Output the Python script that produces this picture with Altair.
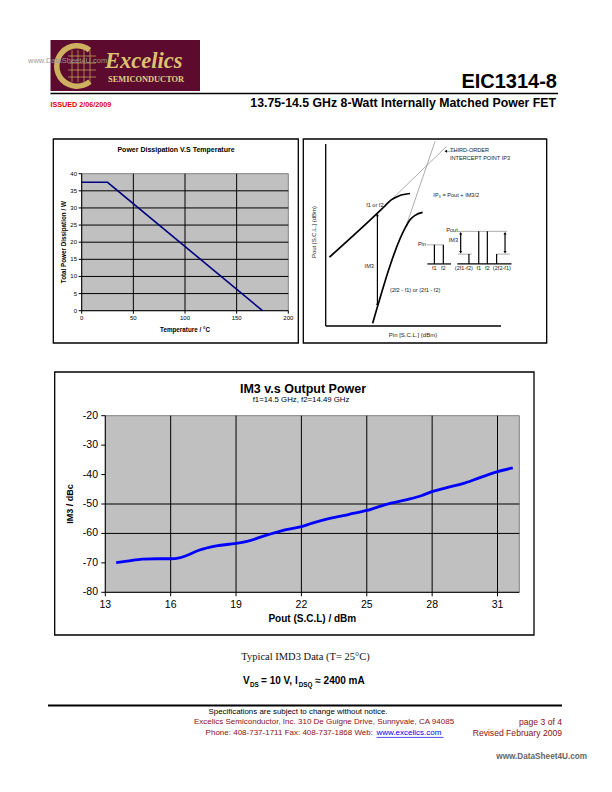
import altair as alt
import pandas as pd

SANS = "Liberation Sans"
SERIF = "Liberation Serif"
PAGE_W, PAGE_H = 612, 792

# ---------------- data: power dissipation vs temperature ----------------
temp_c = [0, 25, 175]
pdiss_w = [37.5, 37.5, 0.0]
temp_ticks = [0, 50, 100, 150, 200]
pdiss_ticks = [0, 5, 10, 15, 20, 25, 30, 35, 40]

# ---------------- data: IM3 vs output power ----------------
pout_dbm = [13.5, 14.0, 14.7, 15.4, 16.0, 16.4, 16.7, 17.3, 18.1, 19.0, 19.5, 20.4, 21.3,
            22.0, 22.5, 23.3, 24.2, 25.0, 25.9, 26.8, 27.5, 28.0, 28.8, 29.4, 30.1, 31.0, 31.7]
im3_dbc = [-69.9, -69.4, -68.7, -68.6, -68.6, -68.3, -67.6, -65.7, -64.2, -63.4, -62.7, -60.6, -58.7,
           -57.7, -56.5, -54.9, -53.5, -52.2, -50.1, -48.6, -47.2, -45.8, -44.2, -43.1, -41.3, -39.0, -37.7]
pout_ticks = [13, 16, 19, 22, 25, 28, 31]
im3_ticks = [-80, -70, -60, -50, -40, -30, -20]
im3_gridlines = [-60, -50]

# ---------------- data: IP3 schematic (u = Pin, v = Pout, arbitrary units) ----------------
curve_name = ["fund"] * 6 + ["im3"] * 5
curve_u = [2.1, 29.5, 34.0, 37.6, 42.0, 48.1, 26.8, 45.8, 48.0, 51.0, 55.3]
curve_v = [37.8, 62.0, 66.2, 69.4, 71.6, 72.8, 1.5, 54.7, 58.2, 60.8, 62.4]

seg_kind = ["axis", "axis", "thin", "thin", "mid", "thin", "mid", "thin", "mid", "mid",
            "mid", "thin", "thin", "thin", "mid", "mid", "mid", "mid", "mid", "mid"]
seg_u1 = [0, 0, 29.5, 45.8, 29.5, 74.5, 58.0, 57.6, 62.0, 67.1,
          75.1, 75.5, 75.5, 97.5, 81.7, 87.3, 92.2, 97.5, 77.0, 102.3]
seg_v1 = [100, 0, 62.0, 54.7, 61.0, 96.0, 34.1, 44.6, 34.1, 34.1,
          34.1, 52.0, 39.5, 39.5, 34.1, 34.1, 34.1, 34.1, 40.5, 40.5]
seg_u2 = [0, 100, 69.0, 62.4, 29.5, 68.5, 71.5, 67.1, 62.0, 67.1,
          106.0, 103.5, 83.3, 105.0, 81.7, 87.3, 92.2, 97.5, 77.0, 102.3]
seg_v2 = [0, 0, 98.7, 101.5, 11.5, 96.0, 34.1, 44.6, 44.6, 44.6,
          34.1, 52.0, 39.5, 39.5, 39.5, 52.0, 52.0, 39.5, 51.0, 51.0]

head_u = [29.5, 29.5, 68.5, 77.0, 77.0, 102.3, 102.3]
head_v = [61.0, 11.5, 96.0, 51.0, 40.5, 51.0, 40.5]
head_shape = ["triangle-up", "triangle-down", "triangle-left", "triangle-up", "triangle-down",
              "triangle-up", "triangle-down"]

lab_text = ["THIRD-ORDER", "INTERCEPT POINT IP3", "IP\u2083 = Pout + IM3/2", "f1 or f2", "IM3",
            "(2f2 - f1) or (2f1 - f2)", "Pin", "f1", "f2", "Pout", "IM3", "(2f1-f2)", "f1", "f2", "(2f2-f1)"]
lab_u = [70.9, 70.9, 61.4, 33.0, 27.5, 36.7, 57.2, 62.0, 67.1, 75.3, 75.5, 78.8, 87.3, 92.2, 100.5]
lab_v = [96.5, 92.5, 72.0, 66.6, 32.7, 19.8, 45.3, 32.0, 32.0, 52.5, 47.0, 32.0, 32.0, 32.0, 32.0]
lab_align = ["left", "left", "left", "right", "right", "left", "right", "center", "center",
             "right", "right", "center", "center", "center", "center"]

ONE = pd.DataFrame({"k": [0]})


def text(s, x, y, size, color="black", weight="normal", align="left", font=SANS,
         angle=0, style="normal", baseline="middle"):
    return alt.Chart(ONE).mark_text(
        text=s, font=font, fontSize=size, fontWeight=weight, fontStyle=style,
        color=color, align=align, baseline=baseline, angle=angle
    ).encode(x=alt.value(x), y=alt.value(y))


def box(x0, y0, x1, y1, stroke="black", sw=1.0, fill="white", fo=0.0):
    return alt.Chart(ONE).mark_rect(
        stroke=stroke, strokeWidth=sw, fill=fill, fillOpacity=fo
    ).encode(x=alt.value(x0), x2=alt.value(x1), y=alt.value(y0), y2=alt.value(y1))


def hline(x0, x1, y, color="black", sw=1.0):
    return alt.Chart(ONE).mark_rule(color=color, strokeWidth=sw).encode(
        x=alt.value(x0), x2=alt.value(x1), y=alt.value(y))


def vline(x, y0, y1, color="black", sw=1.0):
    return alt.Chart(ONE).mark_rule(color=color, strokeWidth=sw).encode(
        x=alt.value(x), y=alt.value(y0), y2=alt.value(y1))


def x_axis(scale, ticks, lo, hi, y_px, tick_len, label_y, size):
    """Bottom axis drawn through the chart's own x scale."""
    dom = alt.Chart(pd.DataFrame({"a": [lo], "b": [hi]})).mark_rule(
        color="black", strokeWidth=1).encode(
        x=alt.X("a:Q", scale=scale, axis=None), x2=alt.X2("b"), y=alt.value(y_px))
    tdf = pd.DataFrame({"t": ticks, "s": [str(t) for t in ticks]})
    tk = alt.Chart(tdf).mark_rule(color="black", strokeWidth=1).encode(
        x=alt.X("t:Q", scale=scale, axis=None), y=alt.value(y_px), y2=alt.value(y_px + tick_len))
    lb = alt.Chart(tdf).mark_text(font=SANS, fontSize=size, color="black",
                                  align="center", baseline="middle").encode(
        x=alt.X("t:Q", scale=scale, axis=None), y=alt.value(label_y), text="s:N")
    return [dom, tk, lb]


def y_axis(scale, ticks, lo, hi, x_px, tick_len, label_x, size):
    """Left axis drawn through the chart's own y scale."""
    dom = alt.Chart(pd.DataFrame({"a": [lo], "b": [hi]})).mark_rule(
        color="black", strokeWidth=1).encode(
        y=alt.Y("a:Q", scale=scale, axis=None), y2=alt.Y2("b"), x=alt.value(x_px))
    tdf = pd.DataFrame({"t": ticks, "s": [str(t) for t in ticks]})
    tk = alt.Chart(tdf).mark_rule(color="black", strokeWidth=1).encode(
        y=alt.Y("t:Q", scale=scale, axis=None), x=alt.value(x_px - tick_len), x2=alt.value(x_px))
    lb = alt.Chart(tdf).mark_text(font=SANS, fontSize=size, color="black",
                                  align="right", baseline="middle").encode(
        y=alt.Y("t:Q", scale=scale, axis=None), x=alt.value(label_x), text="s:N")
    return [dom, tk, lb]


# ======================= IM3 vs output power =======================
MX0, MX1, MY0, MY1 = 105.3, 519.3, 592.3, 415.7
mx = alt.Scale(domain=[13, 32], range=[MX0, MX1], nice=False, zero=False)
my = alt.Scale(domain=[-80, -20], range=[MY0, MY1], nice=False, zero=False)

m_frame = pd.DataFrame({"x0": [13], "x1": [32], "y0": [-80], "y1": [-20]})
m_bg = alt.Chart(m_frame).mark_rect(fill="#c0c0c0", stroke="#808080", strokeWidth=1).encode(
    x=alt.X("x0:Q", scale=mx, axis=None), x2=alt.X2("x1"),
    y=alt.Y("y0:Q", scale=my, axis=None), y2=alt.Y2("y1"),
)
m_vgrid = alt.Chart(pd.DataFrame({"x": pout_ticks[1:], "y0": -80, "y1": -20})).mark_rule(
    color="black", strokeWidth=1).encode(
    x=alt.X("x:Q", scale=mx, axis=None), y=alt.Y("y0:Q", scale=my, axis=None), y2=alt.Y2("y1"))
m_hgrid = alt.Chart(pd.DataFrame({"y": im3_gridlines, "x0": 13, "x1": 32})).mark_rule(
    color="black", strokeWidth=1).encode(
    y=alt.Y("y:Q", scale=my, axis=None), x=alt.X("x0:Q", scale=mx, axis=None), x2=alt.X2("x1"))
m_line = alt.Chart(pd.DataFrame({"pout": pout_dbm, "im3": im3_dbc})).mark_line(
    color="#0000ff", strokeWidth=2.8, interpolate="monotone").encode(
    x=alt.X("pout:Q", scale=mx, axis=None), y=alt.Y("im3:Q", scale=my, axis=None))
main = alt.layer(
    m_bg, m_vgrid, m_hgrid,
    *x_axis(mx, pout_ticks, 13, 32, MY0, 4, 604.5, 10.5),
    *y_axis(my, im3_ticks, -80, -20, MX0, 4, 98, 10.5),
    m_line,
)

# ======================= Power dissipation =======================
PX0, PX1, PY0, PY1 = 81.7, 288.3, 310.7, 173.7
px = alt.Scale(domain=[0, 200], range=[PX0, PX1], nice=False, zero=False)
py = alt.Scale(domain=[0, 40], range=[PY0, PY1], nice=False, zero=False)

p_frame = pd.DataFrame({"x0": [0], "x1": [200], "y0": [0], "y1": [40]})
p_bg = alt.Chart(p_frame).mark_rect(fill="#c0c0c0", stroke="#808080", strokeWidth=1).encode(
    x=alt.X("x0:Q", scale=px, axis=None), x2=alt.X2("x1"),
    y=alt.Y("y0:Q", scale=py, axis=None), y2=alt.Y2("y1"),
)
p_vgrid = alt.Chart(pd.DataFrame({"x": temp_ticks[1:-1], "y0": 0, "y1": 40})).mark_rule(
    color="black", strokeWidth=1).encode(
    x=alt.X("x:Q", scale=px, axis=None), y=alt.Y("y0:Q", scale=py, axis=None), y2=alt.Y2("y1"))
p_hgrid = alt.Chart(pd.DataFrame({"y": pdiss_ticks[1:-1], "x0": 0, "x1": 200})).mark_rule(
    color="black", strokeWidth=1).encode(
    y=alt.Y("y:Q", scale=py, axis=None), x=alt.X("x0:Q", scale=px, axis=None), x2=alt.X2("x1"))
p_line = alt.Chart(pd.DataFrame({"t": temp_c, "p": pdiss_w})).mark_line(
    color="#000080", strokeWidth=1.6).encode(
    x=alt.X("t:Q", scale=px, axis=None), y=alt.Y("p:Q", scale=py, axis=None))
pdiss = alt.layer(
    p_bg, p_vgrid, p_hgrid,
    *x_axis(px, temp_ticks, 0, 200, PY0, 3, 318, 6),
    *y_axis(py, pdiss_ticks, 0, 40, PX0, 3, 77, 6),
    p_line,
)

# ======================= IP3 schematic =======================
dx = alt.Scale(domain=[0, 100], range=[325.7, 501.0], nice=False, zero=False)
dy = alt.Scale(domain=[0, 100], range=[326.0, 144.0], nice=False, zero=False)

seg_df = pd.DataFrame({"kind": seg_kind, "u1": seg_u1, "v1": seg_v1, "u2": seg_u2, "v2": seg_v2})
curve_df = pd.DataFrame({"name": curve_name, "u": curve_u, "v": curve_v,
                         "i": list(range(len(curve_u)))})
head_df = pd.DataFrame({"u": head_u, "v": head_v, "shape": head_shape})
lab_df = pd.DataFrame({"t": lab_text, "u": lab_u, "v": lab_v, "a": lab_align})

seg_layers = []
for kind, col, w in [("axis", "black", 1.3), ("thin", "#8a8a8a", 0.7), ("mid", "black", 1.2)]:
    seg_layers.append(
        alt.Chart(seg_df).transform_filter(alt.datum.kind == kind).mark_rule(
            color=col, strokeWidth=w).encode(
            x=alt.X("u1:Q", scale=dx, axis=None), x2=alt.X2("u2"),
            y=alt.Y("v1:Q", scale=dy, axis=None), y2=alt.Y2("v2"))
    )
d_curves = alt.Chart(curve_df).mark_line(color="black", strokeWidth=1.7, interpolate="monotone").encode(
    x=alt.X("u:Q", scale=dx, axis=None), y=alt.Y("v:Q", scale=dy, axis=None),
    detail="name:N", order="i:Q")
d_heads = alt.Chart(head_df).mark_point(filled=True, color="black", size=9, opacity=1).encode(
    x=alt.X("u:Q", scale=dx, axis=None), y=alt.Y("v:Q", scale=dy, axis=None),
    shape=alt.Shape("shape:N", scale=None))
lab_layers = []
for a in ["left", "right", "center"]:
    lab_layers.append(
        alt.Chart(lab_df).transform_filter(alt.datum.a == a).mark_text(
            font=SANS, fontSize=5.6, color="#222222", align=a, baseline="middle").encode(
            x=alt.X("u:Q", scale=dx, axis=None), y=alt.Y("v:Q", scale=dy, axis=None), text="t:N")
    )
diagram = alt.layer(*seg_layers, d_curves, d_heads, *lab_layers)

# ======================= page decoration & text =======================
MAROON = "#5c0a2d"
GOLD = "#cdb060"
logo = [
    box(50.5, 40, 200, 91, stroke=MAROON, sw=0, fill=MAROON, fo=1),
    alt.Chart(ONE).mark_arc(radius=23, radius2=17.5, theta=2.45, theta2=6.95, color=GOLD).encode(
        x=alt.value(77), y=alt.value(66)),
]
for gx in [72, 78, 84, 90]:
    logo.append(vline(gx, 50, 82, color=GOLD, sw=0.7))
for gy in [56, 63, 70, 77]:
    logo.append(hline(68, 96, gy, color=GOLD, sw=0.7))
logo += [
    text("Excelics", 105, 60.5, 22.5, color="#dcc272", weight="bold", style="italic", font=SERIF),
    text("SEMICONDUCTOR", 108, 78.5, 8.4, color="#e2cf8a", weight="bold", font=SERIF),
    text("www.DataSheet4U.com", 28, 61, 7.5, color="#9a9a9a"),
]

header = [
    text("EIC1314-8", 557, 82, 20, weight="bold", align="right"),
    hline(50.5, 558, 93.5, sw=1.5),
    text("ISSUED  2/06/2009", 50.5, 104.5, 7.2, color="#e00000", weight="bold"),
    text("13.75-14.5 GHz 8-Watt Internally Matched Power FET", 556, 103, 12.3,
         weight="bold", align="right"),
]

frames = [
    box(53.3, 139, 298.3, 343, sw=1.3),
    box(303.3, 139, 546.7, 343, sw=1.3),
    box(54.7, 372, 534, 635, sw=1.3),
]

pd_text = [
    text("Power Dissipation V.S Temperature", 176, 150, 7, weight="bold", align="center"),
    text("Total Power Dissipation / W", 63.5, (PY0 + PY1) / 2, 6.3, weight="bold",
         align="center", angle=270),
    text("Temperature / \u00b0C", (PX0 + PX1) / 2, 329.5, 6.3, weight="bold", align="center"),
]

diag_text = [
    text("Pout [S.C.L.] (dBm)", 314, 232, 6, color="#222222", align="center", angle=270),
    text("Pin [S.C.L.] (dBm)", 413, 335, 6, color="#222222", align="center"),
]

main_text = [
    text("IM3 v.s Output Power", 303, 388.5, 12.5, weight="bold", align="center"),
    text("f1=14.5 GHz, f2=14.49 GHz", 301, 399.5, 7.8, align="center"),
    text("Pout (S.C.L) / dBm", (MX0 + MX1) / 2, 618.5, 10, weight="bold", align="center"),
    text("IM3 / dBc", 70, (MY0 + MY1) / 2, 9, weight="bold", align="center", angle=270),
]

notes = [
    text("Typical IMD3 Data (T= 25\u00b0C)", 305.5, 656.5, 10.5, color="#111111",
         align="center", font=SERIF),
    text("V", 243, 681, 10, weight="bold"),
    text("DS", 249.9, 684.5, 6.3, weight="bold"),
    text("= 10 V, I", 261.1, 681, 10, weight="bold"),
    text("DSQ", 298.8, 684.5, 6.3, weight="bold"),
    text("\u2248 2400 mA", 315.3, 681, 10, weight="bold"),
]

footer = [
    hline(48, 562, 705.5, sw=2),
    text("Specifications are subject to change without notice.", 298, 712, 7.9,
         align="center"),
    text("Excelics Semiconductor, Inc.  310 De Guigne Drive, Sunnyvale, CA  94085", 324, 722,
         8, color="#8b1010", align="center"),
    text("Phone: 408-737-1711  Fax: 408-737-1868  Web:", 373, 732.5, 8,
         color="#8b1010", align="right"),
    text("www.excelics.com", 376.5, 732.5, 8, color="#0000ee"),
    hline(376.5, 443.5, 737.4, color="#0000ee", sw=0.7),
    text("page 3 of 4", 562, 722, 8.6, color="#8b1010", align="right"),
    text("Revised February 2009", 562, 732.5, 8.6, color="#8b1010", align="right"),
    text("www.DataSheet4U.com", 587, 757, 8.2, color="#666666", align="right",
         weight="bold"),
]

chart = alt.layer(
    *logo, *header, *frames,
    pdiss, main, diagram,
    *pd_text, *diag_text, *main_text, *notes, *footer,
).resolve_scale(
    x="independent", y="independent"
).properties(
    width=PAGE_W, height=PAGE_H, padding=0,
    autosize=alt.AutoSizeParams(type="none"),
    background="white",
).configure_view(stroke=None)

chart.save("out.html", embed_options={"renderer": "svg", "actions": False})
